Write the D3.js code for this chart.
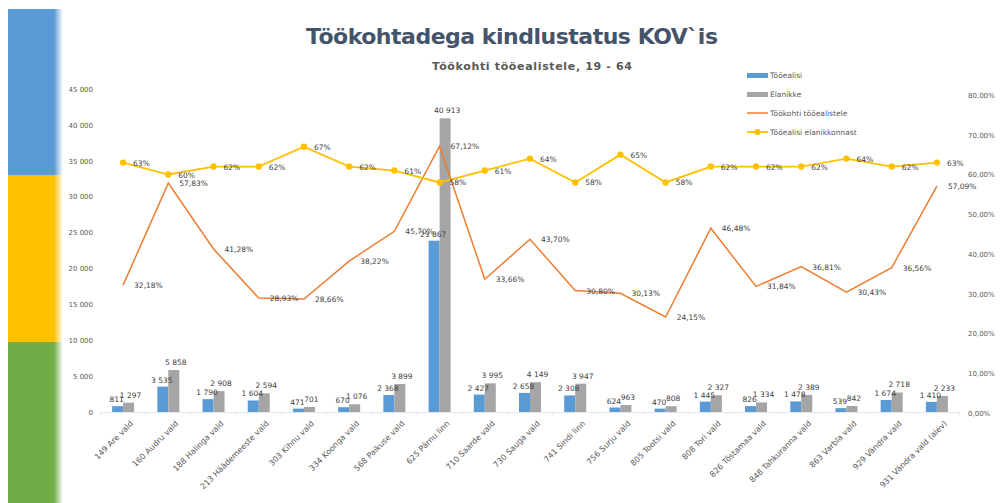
<!DOCTYPE html>
<html>
<head>
<meta charset="utf-8">
<script src="https://cdn.jsdelivr.net/npm/d3@7"></script>
<style>
  body { margin: 0; background: #fff; }
  svg { display: block; font-family: "DejaVu Sans", sans-serif; }
</style>
</head>
<body>
<div id="chart"></div>
<script>
const categories = [
    "149 Are vald", "160 Audru vald", "188 Halinga vald", "213 Häädemeeste vald", "303 Kihnu vald",
    "334 Koonga vald", "568 Paikuse vald", "625 Pärnu linn", "710 Saarde vald", "730 Sauga vald",
    "741 Sindi linn", "756 Surju vald", "805 Tootsi vald", "808 Tori vald", "826 Tõstamaa vald",
    "848 Tahkuranna vald", "863 Varbla vald", "929 Vändra vald", "931 Vändra vald (alev)"
];
const tooealisi = [811, 3535, 1790, 1604, 471, 670, 2368, 23867, 2427, 2658, 2308, 624, 470, 1445, 826, 1478, 539, 1674, 1410];
const elanikke = [1297, 5858, 2908, 2594, 701, 1076, 3899, 40913, 3995, 4149, 3947, 963, 808, 2327, 1334, 2389, 842, 2718, 2233];
const tookohti = [32.18, 57.83, 41.28, 28.93, 28.66, 38.22, 45.70, 67.12, 33.66, 43.70, 30.80, 30.13, 24.15, 46.48, 31.84, 36.81, 30.43, 36.56, 57.09];
const osakaal = [63, 60, 62, 62, 67, 62, 61, 58, 61, 64, 58, 65, 58, 62, 62, 62, 64, 62, 63];
const leftTicks = [0, 5000, 10000, 15000, 20000, 25000, 30000, 35000, 40000, 45000];
const rightTicks = [0, 10, 20, 30, 40, 50, 60, 70, 80];
const legendNames = ["Tööealisi", "Elanikke", "Töökohti tööealistele", "Tööealisi elanikkonnast"];

const width = 1002, height = 503;
const svg = d3.select("#chart").append("svg")
    .attr("width", width)
    .attr("height", height);

// side colour strip
const defs = svg.append("defs");
const grad = defs.append("linearGradient").attr("id", "fade");
grad.append("stop").attr("offset", "0%").attr("stop-color", "#fff").attr("stop-opacity", 0);
grad.append("stop").attr("offset", "100%").attr("stop-color", "#fff").attr("stop-opacity", 1);
[["#5B9BD5", 9, 175], ["#FFC000", 175, 342], ["#70AD47", 342, 503]].forEach(s => {
    svg.append("rect").attr("x", 8).attr("y", s[1]).attr("width", 54).attr("height", s[2] - s[1]).attr("fill", s[0]);
});
svg.append("rect").attr("x", 54).attr("y", 9).attr("width", 9).attr("height", 494).attr("fill", "url(#fade)");

// titles
svg.append("text").attr("x", 512).attr("y", 44).attr("text-anchor", "middle")
    .style("font-size", "22px").style("font-weight", "bold").attr("fill", "#44546A")
    .attr("textLength", 412)
    .text("Töökohtadega kindlustatus KOV`is");
svg.append("text").attr("x", 532).attr("y", 70).attr("text-anchor", "middle")
    .style("font-size", "11px").style("font-weight", "bold").attr("fill", "#595959")
    .attr("textLength", 200)
    .text("Töökohti tööealistele, 19 - 64");

const x = d3.scaleBand().domain(categories).range([100.5, 959.5]).paddingInner(0).paddingOuter(0);
const yL = d3.scaleLinear().domain([0, 45000]).range([412, 89]);
const yR = d3.scaleLinear().domain([0, 80]).range([413, 95]);
const fmtNum = d => d3.format(",")(d).replace(/,/g, " ");
const fmtPct2 = d => d.toFixed(2).replace(".", ",") + "%";

// axes
const axL = svg.append("g").attr("transform", "translate(93,0)")
    .call(d3.axisLeft(yL).tickValues(leftTicks).tickFormat(fmtNum).tickSize(0).tickPadding(0));
axL.select(".domain").remove();
axL.selectAll("text").style("font-size", "7px").attr("fill", "#595959").style("font-family", "DejaVu Sans");

const axR = svg.append("g").attr("transform", "translate(968,0)")
    .call(d3.axisRight(yR).tickValues(rightTicks).tickFormat(d => d.toFixed(2).replace(".", ",") + "%").tickSize(0).tickPadding(0));
axR.select(".domain").remove();
axR.selectAll("text").style("font-size", "7px").attr("fill", "#595959").style("font-family", "DejaVu Sans");

const axB = svg.append("g").attr("transform", "translate(0,412)")
    .call(d3.axisBottom(x).tickSize(0).tickPadding(8));
axB.select(".domain").attr("stroke", "#DCE6F2");
axB.selectAll("text")
    .style("font-size", "8px").attr("fill", "#595959").style("font-family", "DejaVu Sans")
    .attr("text-anchor", "end")
    .attr("transform", "rotate(-45)")
    .attr("dx", "-1px").attr("dy", "8px");
// category separators
svg.selectAll(".sep").data(categories.concat([null])).enter().append("line")
    .attr("x1", (d, i) => 100.5 + i * x.bandwidth()).attr("x2", (d, i) => 100.5 + i * x.bandwidth())
    .attr("y1", 412).attr("y2", 415).attr("stroke", "#DCE6F2");

// bars
const bw = 11;
const labelStyle = sel => sel.style("font-size", "7.5px").attr("fill", "#404040").attr("text-anchor", "middle");

svg.selectAll(".b1").data(categories).enter().append("rect")
    .attr("x", d => x(d) + x.bandwidth() / 2 - bw)
    .attr("y", (d, i) => yL(tooealisi[i]))
    .attr("width", bw)
    .attr("height", (d, i) => 412 - yL(tooealisi[i]))
    .attr("fill", "#5B9BD5");
svg.selectAll(".b2").data(categories).enter().append("rect")
    .attr("x", d => x(d) + x.bandwidth() / 2)
    .attr("y", (d, i) => yL(elanikke[i]))
    .attr("width", bw)
    .attr("height", (d, i) => 412 - yL(elanikke[i]))
    .attr("fill", "#A5A5A5");

// lines
const lineO = d3.line().x((d, i) => x(categories[i]) + x.bandwidth() / 2).y(d => yR(d));
svg.append("path").datum(tookohti).attr("d", lineO).attr("fill", "none")
    .attr("stroke", "#ED7D31").attr("stroke-width", 1.5);
svg.append("path").datum(osakaal).attr("d", lineO).attr("fill", "none")
    .attr("stroke", "#FFC000").attr("stroke-width", 1.8);
svg.selectAll(".dot").data(osakaal).enter().append("circle")
    .attr("cx", (d, i) => x(categories[i]) + x.bandwidth() / 2)
    .attr("cy", d => yR(d)).attr("r", 3.2).attr("fill", "#FFC000");

// data labels
svg.selectAll(".l1").data(tooealisi).enter().append("text")
    .attr("x", (d, i) => x(categories[i]) + x.bandwidth() / 2 - bw / 2 - 1)
    .attr("y", d => yL(d) - 4)
    .call(labelStyle).text(fmtNum);
svg.selectAll(".l2").data(elanikke).enter().append("text")
    .attr("x", (d, i) => x(categories[i]) + x.bandwidth() / 2 + bw / 2 + 2)
    .attr("y", d => yL(d) - 5)
    .call(labelStyle).text(fmtNum);
svg.selectAll(".l3").data(tookohti).enter().append("text")
    .attr("x", (d, i) => x(categories[i]) + x.bandwidth() / 2 + 11)
    .attr("y", d => yR(d) + 3)
    .style("font-size", "7.5px").attr("fill", "#404040").text(fmtPct2);
svg.selectAll(".l4").data(osakaal).enter().append("text")
    .attr("x", (d, i) => x(categories[i]) + x.bandwidth() / 2 + 10)
    .attr("y", d => yR(d) + 3)
    .style("font-size", "7.5px").attr("fill", "#404040").text(d => d + "%");

// legend
const leg = svg.append("g").attr("transform", "translate(747,75)");
legendNames.forEach((name, i) => {
    const g = leg.append("g").attr("transform", `translate(0,${i * 19})`);
    if (i < 2) {
        g.append("rect").attr("x", 0).attr("y", -2).attr("width", 21).attr("height", 5)
            .attr("fill", i === 0 ? "#5B9BD5" : "#A5A5A5");
    } else {
        g.append("line").attr("x1", 0).attr("x2", 21).attr("y1", 0).attr("y2", 0)
            .attr("stroke", i === 2 ? "#ED7D31" : "#FFC000").attr("stroke-width", i === 2 ? 1.5 : 1.8);
        if (i === 3) g.append("circle").attr("cx", 10.5).attr("cy", 0).attr("r", 3).attr("fill", "#FFC000");
    }
    g.append("text").attr("x", 23).attr("y", 3).style("font-size", "7.5px").attr("fill", "#595959").text(name);
});
</script>
</body>
</html>
